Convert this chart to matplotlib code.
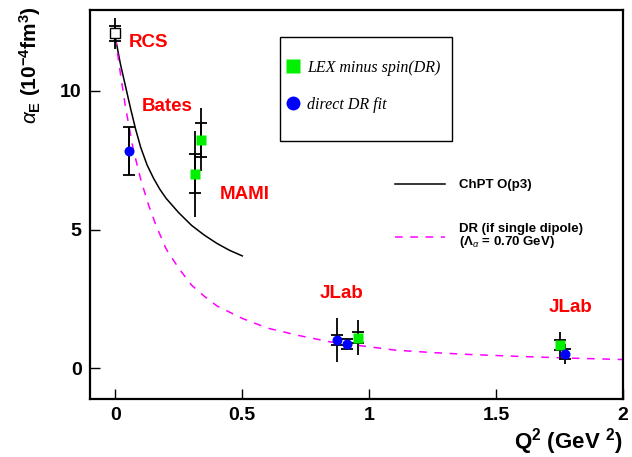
import numpy as np
import matplotlib
matplotlib.use('Agg')
import matplotlib.pyplot as plt
from matplotlib.lines import Line2D
from matplotlib.patches import Rectangle

plt.rcParams['font.family'] = ['Liberation Sans', 'DejaVu Sans']
plt.rcParams['mathtext.fontset'] = 'custom'
plt.rcParams['mathtext.rm'] = 'Liberation Sans:bold'
plt.rcParams['mathtext.bf'] = 'Liberation Sans:bold'
plt.rcParams['mathtext.it'] = 'Liberation Sans:italic'

# ChPT O(p3) curve
chpt_q2 = [0.0, 0.02, 0.04, 0.06, 0.08, 0.10, 0.125, 0.15, 0.175, 0.20, 0.25, 0.30, 0.35, 0.40, 0.45, 0.50]
chpt_a = [11.9, 10.95, 10.15, 9.35, 8.6, 7.95, 7.32, 6.85, 6.45, 6.12, 5.6, 5.15, 4.8, 4.5, 4.25, 4.05]

# DR single dipole curve
dr_q2 = [0.0, 0.02, 0.04, 0.07, 0.10, 0.13, 0.16, 0.20, 0.25, 0.30, 0.35, 0.40, 0.50,
         0.60, 0.72, 0.85, 1.0, 1.1, 1.25, 1.4, 1.6, 1.8, 2.0]
dr_a = [11.9, 10.6, 9.4, 7.9, 6.8, 5.9, 5.15, 4.3, 3.6, 3.0, 2.6, 2.25, 1.8,
        1.45, 1.19, 0.95, 0.78, 0.66, 0.57, 0.5, 0.43, 0.37, 0.32]

# RCS (real Compton scattering)
rcs_x = [0.0]
rcs_y = [12.06]
rcs_stat = [0.28]
rcs_tot = [0.57]

# LEX minus spin(DR)
lex_x = [0.314, 0.337, 0.955, 1.752]
lex_y = [7.0, 8.23, 1.11, 0.83]
lex_stat = [0.7, 0.61, 0.2, 0.18]
lex_tot = [1.55, 1.13, 0.62, 0.48]

# direct DR fit
fit_x = [0.053, 0.873, 0.914, 1.771]
fit_y = [7.83, 1.03, 0.87, 0.53]
fit_stat = [0.87, 0.18, 0.18, 0.18]
fit_tot = [0.87, 0.79, 0.18, 0.36]

# experiment labels
exp_names = ['RCS', 'Bates', 'MAMI', 'JLab', 'JLab']
exp_x = [0.051, 0.102, 0.413, 0.803, 1.709]
exp_y = [11.73, 9.42, 6.25, 2.71, 2.2]

W, H = 632, 457
fig = plt.figure(figsize=(W / 100, H / 100), dpi=100)
ax = fig.add_axes([90 / W, 1 - 399 / H, 533 / W, 389 / H])

ax.plot(chpt_q2, chpt_a, color='black', lw=1.1, zorder=2)
ax.plot(dr_q2, dr_a, color='#ff00ff', lw=1.1, dashes=(5, 5), zorder=2)

ebar = dict(fmt='none', ecolor='black', elinewidth=1.3, zorder=3)
ax.errorbar(rcs_x, rcs_y, yerr=rcs_tot, capsize=0, **ebar)
ax.errorbar(rcs_x, rcs_y, yerr=rcs_stat, capsize=4, capthick=1.3, **ebar)
ax.plot(rcs_x, rcs_y, 's', ms=7.2, mfc='white', mec='black', mew=1.0, zorder=4)

ax.errorbar(lex_x, lex_y, yerr=lex_tot, capsize=0, **ebar)
ax.errorbar(lex_x, lex_y, yerr=lex_stat, capsize=4, capthick=1.3, **ebar)
ax.plot(lex_x, lex_y, 's', ms=7.2, color='#00f000', mec='none', zorder=4)

ax.errorbar(fit_x, fit_y, yerr=fit_tot, capsize=0, **ebar)
ax.errorbar(fit_x, fit_y, yerr=fit_stat, capsize=4, capthick=1.3, **ebar)
ax.plot(fit_x, fit_y, 'o', ms=7.2, color='#0000ff', mec='none', zorder=5)

for name, x, y in zip(exp_names, exp_x, exp_y):
    ax.text(x, y, name, color='#ff0000', fontsize=13.5, fontweight='bold',
            ha='left', va='center')

ax.set_xlim(-0.1, 2.0)
ax.set_ylim(-1.1, 12.9)
ax.set_xticks([0, 0.5, 1, 1.5, 2])
ax.set_xticklabels(['0', '0.5', '1', '1.5', '2'])
ax.set_yticks([0, 5, 10])
ax.tick_params(direction='in', length=7.5, width=1.0, labelsize=14, pad=6,
               top=False, right=False)
for lab in ax.get_xticklabels() + ax.get_yticklabels():
    lab.set_fontweight('bold')
for sp in ax.spines.values():
    sp.set_linewidth(1.6)

ax.set_xlabel(r'Q$^{2}$ (GeV $^{2}$)', fontsize=16, fontweight='bold', loc='right')
ax.xaxis.set_label_coords(1.0, -0.07)
ax.set_ylabel(r'$\alpha_{\rm E}$ (10$^{-4}$fm$^{3}$)', fontsize=15, fontweight='bold', loc='top')
ax.yaxis.set_label_coords(-0.088, 1.01)

# marker legend with box
box = Rectangle((280 / W, 1 - 141 / H), 172 / W, 104 / H, transform=fig.transFigure,
                facecolor='white', edgecolor='black', lw=1.0, zorder=6, clip_on=False)
ax.add_patch(box)
mk_handles = [Line2D([], [], ls='none', marker='s', ms=10, color='#00f000', mec='none'),
              Line2D([], [], ls='none', marker='o', ms=10, color='#0000ff', mec='none')]
leg1 = ax.legend(mk_handles, ['LEX minus spin(DR)', 'direct DR fit'],
                 loc='upper left', bbox_to_anchor=(286 / W, 1 - 60 / H),
                 bbox_transform=fig.transFigure, frameon=False,
                 prop={'family': 'Liberation Serif', 'style': 'italic', 'size': 11.5},
                 handlelength=0.9, handletextpad=0.4, labelspacing=1.3, borderpad=0,
                 borderaxespad=0)
leg1.set_zorder(7)
ax.add_artist(leg1)

ln_handles = [Line2D([], [], color='black', lw=1.1),
              Line2D([], [], color='#ff00ff', lw=1.1, dashes=(5, 5))]
leg2 = ax.legend(ln_handles, ['ChPT O(p3)', 'DR (if single dipole)\n' + r'($\Lambda_{\alpha}$ = 0.70 GeV)'],
                 loc='upper left', bbox_to_anchor=(395 / W, 1 - 179 / H),
                 bbox_transform=fig.transFigure, frameon=False,
                 prop={'family': 'Liberation Sans', 'weight': 'bold', 'size': 9.5},
                 handlelength=3.8, handletextpad=1.05, labelspacing=2.4, borderpad=0,
                 borderaxespad=0)
for t in leg2.get_texts():
    t.set_linespacing(0.95)

fig.savefig('out.png', dpi=100)
